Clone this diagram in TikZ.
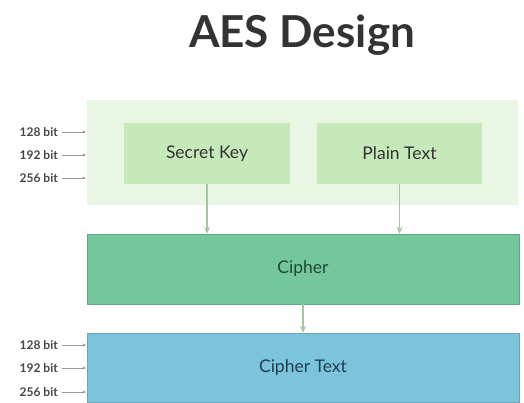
\documentclass[tikz,border=0pt]{standalone}
\usepackage{fontspec}
\setmainfont{Lato}
\usetikzlibrary{arrows.meta}

\definecolor{outerbg}{HTML}{E9F6E3}
\definecolor{innerbg}{HTML}{C6E9B9}
\definecolor{ciphbg}{HTML}{74C69B}
\definecolor{ctextbg}{HTML}{7BC4DC}
\definecolor{flow}{HTML}{A3C79E}
\definecolor{ink}{HTML}{333333}
\definecolor{deepgreen}{HTML}{1E4A38}
\definecolor{deepblue}{HTML}{1F3F4F}

\tikzset{
  panel/.style={draw=none, inner sep=0pt, anchor=center},
  boxtext/.style={font=\fontsize{17.5}{20}\selectfont},
  flowarrow/.style={draw=flow, line width=1.2pt, -{Stealth[length=7pt,width=6pt]}},
  bitlabel/.style={font=\fontsize{12}{14}\selectfont\bfseries, text=ink!90, anchor=east, inner sep=0pt},
  bitarrow/.style={draw=gray!80, line width=0.5pt, -{Stealth[length=3.5pt,width=3pt]}},
}

\begin{document}
\begin{tikzpicture}[x=1pt,y=-1pt]
\useasboundingbox (0,0) rectangle (524,402);

% title
\node[font=\fontsize{44}{50}\selectfont\bfseries, text=ink] (title) at (302,35) {AES Design};

% input panel and its two boxes
\node[panel, fill=outerbg, minimum width=431pt, minimum height=105pt] (inputs) at (302.5,152.5) {};
\node[panel, boxtext, fill=innerbg, minimum width=166pt, minimum height=61pt,
      text=ink] (key) at (207,153.5) {Secret Key};
\node[panel, boxtext, fill=innerbg, minimum width=165pt, minimum height=61pt,
      text=ink] (plain) at (399.5,153.5) {Plain Text};

% cipher stage
\node[panel, boxtext, fill=ciphbg, draw=ciphbg!85!black, line width=0.4pt,
      minimum width=432pt, minimum height=70pt, text=deepgreen] (cipher) at (303,269) {Cipher};

% output
\node[panel, boxtext, fill=ctextbg, draw=ctextbg!85!black, line width=0.4pt,
      minimum width=432pt, minimum height=69pt, text=deepblue] (ctext) at (303,367.5) {Cipher Text};

% data flow
\draw[flowarrow] (key.south) -- (key.south |- cipher.north);
\draw[flowarrow] (plain.south) -- (plain.south |- cipher.north);
\draw[flowarrow] (cipher.south) -- (ctext.north);

% key sizes feeding the input panel
\foreach \n/\y/\t in {ka/132/128 bit, kb/155/192 bit, kc/178/256 bit}{
  \node[bitlabel] (\n) at (58,\y) {\t};
  \coordinate (\n e) at (86,\y);
  \draw[bitarrow] ([xshift=4pt]\n.east) -- (\n e);
}

% key sizes at the output
\foreach \n/\y/\t in {oa/345/128 bit, ob/368/192 bit, oc/392/256 bit}{
  \node[bitlabel] (\n) at (58,\y) {\t};
  \coordinate (\n e) at (86,\y);
  \draw[bitarrow] ([xshift=4pt]\n.east) -- (\n e);
}
\end{tikzpicture}
\end{document}
